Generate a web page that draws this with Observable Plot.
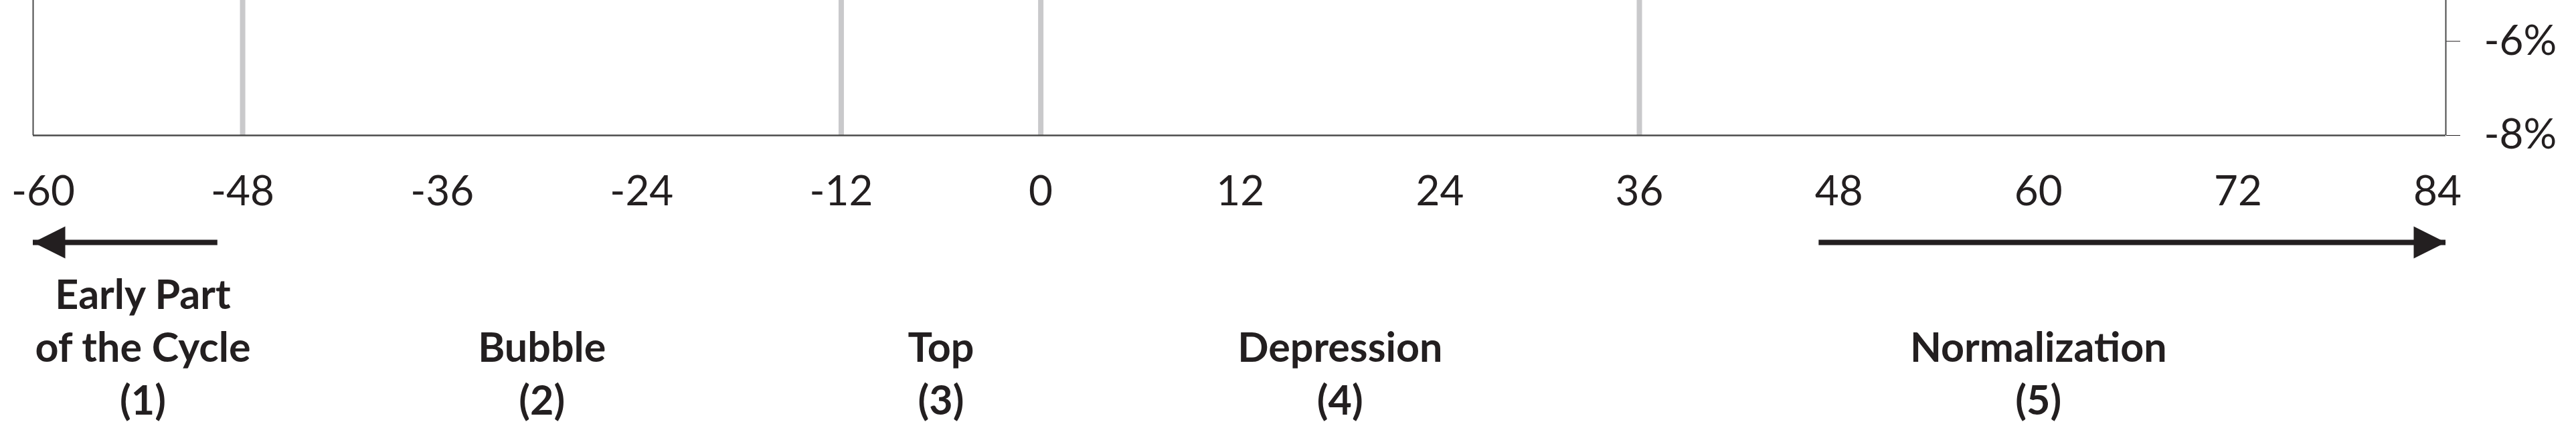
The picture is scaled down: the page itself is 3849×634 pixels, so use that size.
<!DOCTYPE html>
<html>
<head>
<meta charset="utf-8">
<script src="https://cdn.jsdelivr.net/npm/d3@7"></script>
<script src="https://cdn.jsdelivr.net/npm/@observablehq/plot@0.6"></script>
<style>
  html, body { margin: 0; padding: 0; overflow: hidden; background: white; }
  svg { display: block; }
  g[aria-label^="x-axis"] text, g[aria-label^="y-axis"] text { font-size: 62px; font-weight: 400; }
</style>
</head>
<body>
<div id="chart"></div>
<script>
// ---- data ----
const xTicks = [-60, -48, -36, -24, -12, 0, 12, 24, 36, 48, 60, 72, 84];
const yTicks = [-8, -6];
const xDomain = [-60.6, 84.5];
const yDomain = [-8, -5.13];
const phaseBoundaries = [-48, -12, 0, 36];
const phaseNames = ["Early Part\nof the Cycle", "Bubble", "Top", "Depression", "Normalization"];
const phaseNumbers = ["(1)", "(2)", "(3)", "(4)", "(5)"];
const phaseCenters = [-54, -30, -6, 18, 60];
const arrowFrom = [-49.5, 46.8];
const arrowTo = [-60.6, 84.5];

// ---- tables built from the arrays ----
const phases = phaseNames.map((name, i) => ({label: name + "\n" + phaseNumbers[i], x: phaseCenters[i]}));
const arrows = arrowFrom.map((f, i) => ({from: f, to: arrowTo[i]}));
const base = yDomain[0];

const ink = "#231f20";

const triRight = {draw(ctx, size) { const r = Math.sqrt(size / Math.PI); ctx.moveTo(0, 0); ctx.lineTo(-2 * r, -r); ctx.lineTo(-2 * r, r); ctx.closePath(); }};
const triLeft = {draw(ctx, size) { const r = Math.sqrt(size / Math.PI); ctx.moveTo(0, 0); ctx.lineTo(2 * r, -r); ctx.lineTo(2 * r, r); ctx.closePath(); }};

const chart = Plot.plot({
  width: 3849,
  height: 634,
  marginTop: 0,
  marginLeft: 49,
  marginRight: 195,
  marginBottom: 432,
  style: {fontFamily: "Lato, 'Open Sans', sans-serif", fontSize: "62px", color: ink, background: "white", overflow: "visible"},
  x: {domain: xDomain, ticks: xTicks, tickFormat: d => String(d), tickSize: 0, tickPadding: 60, label: null},
  y: {domain: yDomain, ticks: yTicks, tickFormat: d => d + "%", axis: "right", tickSize: 21, tickPadding: 36, label: null},
  marks: [
    Plot.ruleX(phaseBoundaries, {stroke: "#c9c9cb", strokeWidth: 8}),
    Plot.ruleX(xDomain, {stroke: "#4a4a4a", strokeWidth: 2}),
    Plot.ruleY([base], {stroke: "#4a4a4a", strokeWidth: 2.5}),
    Plot.ruleY(arrows, {y: () => base, x1: "from", x2: "to", dy: 160, stroke: ink, strokeWidth: 8}),
    Plot.dot(arrows.filter(a => a.to < a.from), {x: "to", y: () => base, dy: 160, symbol: triLeft, r: 24, fill: ink, stroke: "none"}),
    Plot.dot(arrows.filter(a => a.to > a.from), {x: "to", y: () => base, dy: 160, symbol: triRight, r: 24, fill: ink, stroke: "none"}),
    Plot.text(phases, {x: "x", y: () => base, text: "label", dy: 417, lineAnchor: "bottom", lineHeight: 1.29, fontSize: 61, fontWeight: 700, fill: ink, fontFamily: "Lato, 'Open Sans', sans-serif"})
  ]
});
document.getElementById("chart").appendChild(chart);
</script>
</body>
</html>
